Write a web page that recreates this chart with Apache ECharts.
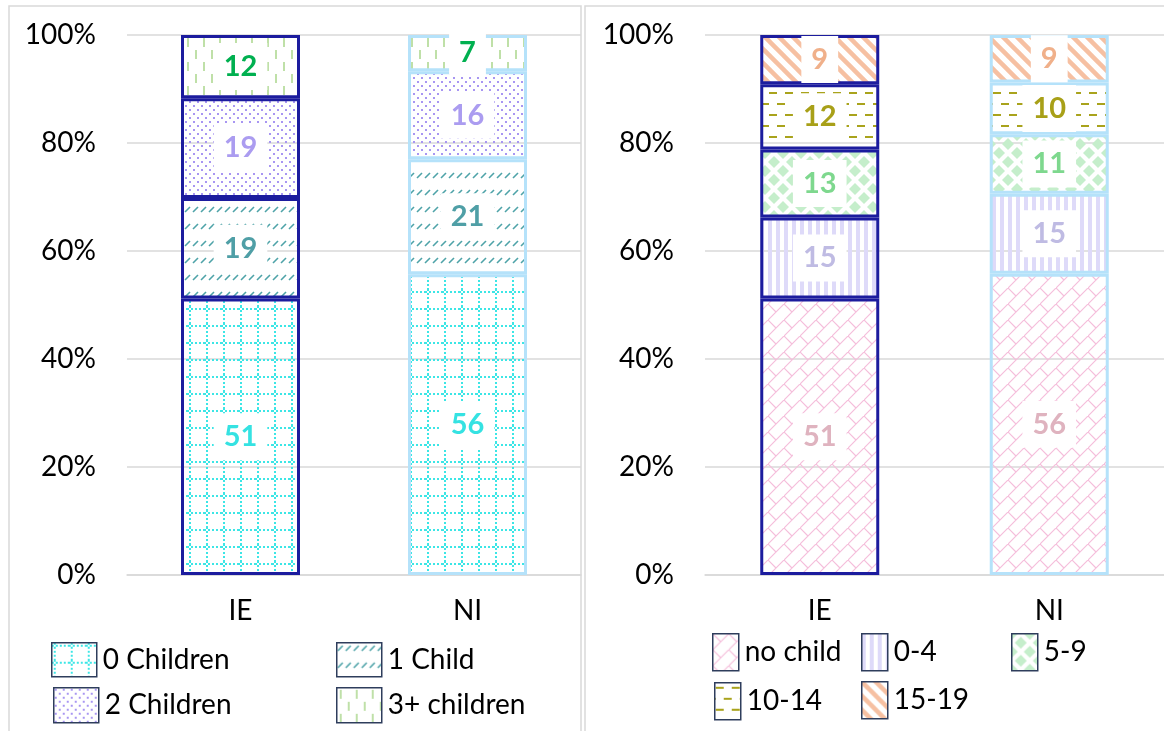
<!DOCTYPE html>
<html>
<head>
<meta charset="utf-8">
<script src="https://cdn.jsdelivr.net/npm/echarts@6/dist/echarts.min.js"></script>
<style>
  html, body { margin: 0; padding: 0; background: #fff; }
  #chart { width: 1164px; height: 731px; }
</style>
</head>
<body>
<div id="chart"></div>
<script>
// data (percent of households)
var categories = ['IE', 'NI'];
var yTicks = [0, 20, 40, 60, 80, 100];

// left panel: number of children
var leftNames = ['0 Children', '1 Child', '2 Children', '3+ children'];
var zeroChildren = [51.2, 55.7];
var oneChild = [18.6, 21.3];
var twoChildren = [18.5, 16.3];
var threePlus = [11.7, 6.7];

// right panel: age of youngest child
var rightNames = ['no child', '0-4', '5-9', '10-14', '15-19'];
var noChild = [51.2, 55.8];
var age0to4 = [15.0, 14.8];
var age5to9 = [12.6, 11.0];
var age10to14 = [12.1, 9.6];
var age15to19 = [9.1, 8.8];

var IE_BORDER = '#1c1c9e';
var NI_BORDER = '#b5e2fa';
var FONT = 'Lato';

function pattern(w, h, draw) {
  var c = document.createElement('canvas');
  c.width = w; c.height = h;
  var ctx = c.getContext('2d');
  draw(ctx);
  return { image: c, repeat: 'repeat' };
}

var pats = {
  grid: pattern(17, 17, function (ctx) {
    ctx.fillStyle = '#3ce6e6';
    for (var t = 0; t < 17; t += 4) {
      ctx.fillRect(2, t, 2, 2);
      ctx.fillRect(t, 2, 2, 2);
    }
  }),
  slash: pattern(8, 17, function (ctx) {
    ctx.strokeStyle = '#4ea3a8';
    ctx.lineWidth = 1.6;
    ctx.beginPath(); ctx.moveTo(1, 8); ctx.lineTo(6, 3); ctx.stroke();
  }),
  dots: pattern(8, 8, function (ctx) {
    ctx.fillStyle = '#a896f2';
    ctx.fillRect(1, 1, 2, 2);
    ctx.fillRect(5, 5, 2, 2);
  }),
  vdash: pattern(16, 24, function (ctx) {
    ctx.fillStyle = '#bfe0a8';
    ctx.fillRect(3, 2, 2, 9);
    ctx.fillRect(11, 14, 2, 9);
  }),
  brick: pattern(16, 16, function (ctx) {
    ctx.strokeStyle = '#f5bedb';
    ctx.lineWidth = 1.2;
    ctx.beginPath();
    ctx.moveTo(0, 16); ctx.lineTo(16, 0);
    ctx.moveTo(0, 0); ctx.lineTo(8, 8);
    ctx.stroke();
  }),
  vstripe: pattern(8, 8, function (ctx) {
    ctx.fillStyle = '#dedaf9';
    ctx.fillRect(0, 0, 4, 8);
  }),
  diamond: pattern(18, 18, function (ctx) {
    ctx.fillStyle = '#c5eecb';
    [[9, 9], [0, 0], [18, 0], [0, 18], [18, 18]].forEach(function (p) {
      ctx.beginPath();
      ctx.moveTo(p[0], p[1] - 6); ctx.lineTo(p[0] + 6, p[1]);
      ctx.lineTo(p[0], p[1] + 6); ctx.lineTo(p[0] - 6, p[1]);
      ctx.closePath(); ctx.fill();
    });
  }),
  hdash: pattern(16, 22, function (ctx) {
    ctx.fillStyle = '#a9a31c';
    ctx.fillRect(1, 4, 8, 2);
    ctx.fillRect(9, 15, 7, 2);
    ctx.fillRect(0, 15, 1, 2);
  }),
  diag: pattern(14, 14, function (ctx) {
    ctx.strokeStyle = '#f6c0a2';
    ctx.lineWidth = 4.5;
    [-14, 0, 14].forEach(function (k) {
      ctx.beginPath(); ctx.moveTo(k - 2, -2); ctx.lineTo(k + 16, 16); ctx.stroke();
    });
  })
};

function barSeries(name, values, fill, labelColor, axis) {
  return {
    name: name,
    type: 'bar',
    stack: 'panel' + axis,
    xAxisIndex: axis,
    yAxisIndex: axis,
    barWidth: 119,
    itemStyle: { color: fill, borderWidth: 3 },
    label: {
      show: true,
      position: 'inside',
      formatter: function (p) { return Math.round(p.value); },
      color: labelColor,
      fontFamily: FONT,
      fontWeight: 'bold',
      fontSize: 29,
      backgroundColor: '#fff',
      padding: [10, 10, 8, 10]
    },
    data: values.map(function (v, i) {
      return { value: v, itemStyle: { borderColor: i === 0 ? IE_BORDER : NI_BORDER } };
    })
  };
}

function legendItem(name, left, top, w, h) {
  return {
    data: [name],
    left: left, top: top,
    padding: 0,
    icon: 'rect',
    itemWidth: w, itemHeight: h,
    itemStyle: { borderColor: '#2e3d5c', borderWidth: 1.5 },
    textStyle: { fontFamily: FONT, fontSize: 28, color: '#000', padding: [0, 0, 0, 1] },
    selectedMode: false
  };
}

function xAxis(idx) {
  return {
    type: 'category', gridIndex: idx, data: categories,
    axisTick: { show: false },
    axisLine: { lineStyle: { color: '#d9d9d9', width: 1.5 } },
    axisLabel: { fontFamily: FONT, fontSize: 28, color: '#000', margin: 22 }
  };
}

function yAxis(idx) {
  return {
    type: 'value', gridIndex: idx,
    min: yTicks[0], max: yTicks[yTicks.length - 1], interval: 20,
    axisLine: { show: false }, axisTick: { show: false },
    splitLine: { lineStyle: { color: '#d9d9d9', width: 1.5 } },
    axisLabel: { fontFamily: FONT, fontSize: 28, color: '#000', margin: 31, formatter: '{value}%' }
  };
}

var chart = echarts.init(document.getElementById('chart'), null, { renderer: 'canvas' });

chart.setOption({
  animation: false,
  backgroundColor: '#fff',
  textStyle: { fontFamily: FONT },
  graphic: [
    { type: 'rect', silent: true, z: -10, shape: { x: 9, y: 6, width: 572, height: 780 },
      style: { fill: 'none', stroke: '#d9d9d9', lineWidth: 1.5 } },
    { type: 'rect', silent: true, z: -10, shape: { x: 585, y: 6, width: 700, height: 780 },
      style: { fill: 'none', stroke: '#d9d9d9', lineWidth: 1.5 } }
  ],
  grid: [
    { left: 127, top: 35, width: 454, height: 540 },
    { left: 705, top: 35, width: 459, height: 540 }
  ],
  xAxis: [xAxis(0), xAxis(1)],
  yAxis: [yAxis(0), yAxis(1)],
  legend: [
    legendItem(leftNames[0], 51, 642, 45, 34),
    legendItem(leftNames[1], 336, 642, 45, 34),
    legendItem(leftNames[2], 53, 687, 45, 35),
    legendItem(leftNames[3], 336, 687, 45, 35),
    legendItem(rightNames[0], 712, 633, 26, 37),
    legendItem(rightNames[1], 861, 633, 26, 37),
    legendItem(rightNames[2], 1011, 633, 26, 37),
    legendItem(rightNames[3], 714, 682, 26, 37),
    legendItem(rightNames[4], 861, 681, 26, 37)
  ],
  series: [
    barSeries(leftNames[0], zeroChildren, pats.grid, '#35e2e2', 0),
    barSeries(leftNames[1], oneChild, pats.slash, '#4f9fa6', 0),
    barSeries(leftNames[2], twoChildren, pats.dots, '#ab9cf0', 0),
    barSeries(leftNames[3], threePlus, pats.vdash, '#00b050', 0),
    barSeries(rightNames[0], noChild, pats.brick, '#dfb3bf', 1),
    barSeries(rightNames[1], age0to4, pats.vstripe, '#bfbbe3', 1),
    barSeries(rightNames[2], age5to9, pats.diamond, '#7ed88e', 1),
    barSeries(rightNames[3], age10to14, pats.hdash, '#a8a018', 1),
    barSeries(rightNames[4], age15to19, pats.diag, '#f0b08a', 1)
  ]
});
</script>
</body>
</html>
